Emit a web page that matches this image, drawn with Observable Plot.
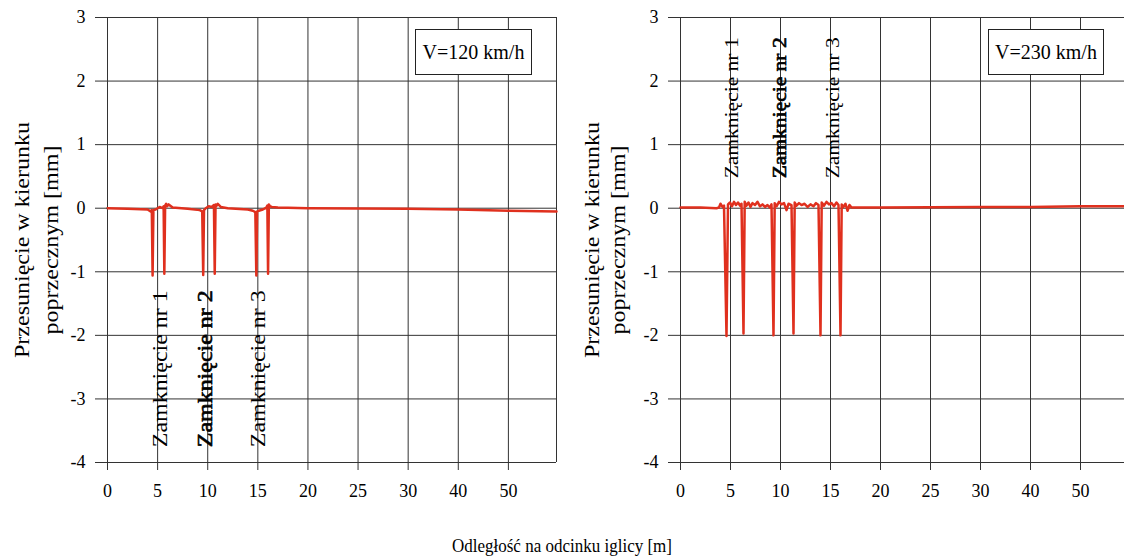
<!DOCTYPE html>
<html><head><meta charset="utf-8">
<script src="https://cdn.jsdelivr.net/npm/d3@7"></script>
<script src="https://cdn.jsdelivr.net/npm/@observablehq/plot@0.6"></script>
<style>
body{margin:0;background:#fff;}
#wrap{position:relative;width:1124px;height:558px;overflow:hidden;font-family:"Liberation Serif","Times New Roman",serif;background:#fff;}
.panel{position:absolute;top:0;}
.vbox{position:absolute;top:29px;height:46px;box-sizing:border-box;border:1px solid #222;background:#fff;font-size:20px;display:flex;align-items:center;justify-content:center;color:#000;}
#xtitle{position:absolute;left:0;width:1124px;text-align:center;top:536px;font-size:17px;line-height:20px;color:#000;transform:scaleY(1.15);}
</style></head><body><div id="wrap"></div>
<script>
// ---- data ----
const xTickValues = [0, 5, 10, 15, 20, 25, 30, 40, 50];
const xTickLabels = ["0", "5", "10", "15", "20", "25", "30", "40", "50"];
const yTickValues = [-4, -3, -2, -1, 0, 1, 2, 3];
const speedLabels = ["V=120 km/h", "V=230 km/h"];
const closureLabels = ["Zamknięcie nr 1", "Zamknięcie nr 2", "Zamknięcie nr 3"];
const yLabelLines = ["Przesunięcie w kierunku", "poprzecznym [mm]"];
const xTitle = "Odległość na odcinku iglicy [m]";

// V = 120 km/h
const x120 = [0, 2, 4, 4.3, 4.42, 4.5, 4.58, 4.8, 5.2, 5.5, 5.6, 5.67, 5.75, 5.85, 5.95, 6.1, 6.5, 8, 9.2, 9.45,
  9.55, 9.63, 9.8, 10.1, 10.4, 10.62, 10.7, 10.78, 10.9, 11.0, 11.3, 12, 14, 14.5, 14.75, 14.85, 14.93, 15.1, 15.5, 15.85,
  15.95, 16.02, 16.1, 16.2, 16.4, 17, 20, 30, 40, 50, 59.6];
const y120 = [0, -0.01, -0.02, -0.05, -0.03, -1.06, -0.03, -0.02, 0.02, 0.0, 0.03, -1.03, 0.04, 0.07, 0.03, 0.06, 0.01, -0.01, -0.03, -0.05,
  -1.05, -0.03, 0.0, 0.03, 0.02, 0.05, -1.03, 0.06, 0.04, 0.07, 0.02, 0.0, -0.02, -0.04, -0.06, -1.06, -0.05, -0.04, -0.02, 0.01,
  0.04, -1.03, 0.06, 0.03, 0.02, 0.01, 0.0, -0.01, -0.02, -0.04, -0.05];

// V = 230 km/h
const x230 = [0, 2, 3.6, 3.85, 4.0, 4.2, 4.35, 4.6, 4.75, 4.95, 5.15, 5.35, 5.55, 5.75, 5.95, 6.1, 6.3, 6.42, 6.6, 6.8,
  7.0, 7.2, 7.45, 7.7, 7.95, 8.2, 8.45, 8.7, 8.95, 9.1, 9.3, 9.42, 9.6, 9.85, 10.1, 10.35, 10.6, 10.8, 11.1, 11.3,
  11.42, 11.6, 11.85, 12.1, 12.4, 12.7, 13.0, 13.3, 13.55, 13.8, 14.0, 14.12, 14.35, 14.6, 14.85, 15.1, 15.35, 15.6, 15.8, 16.0,
  16.12, 16.3, 16.5, 16.7, 16.9, 17.1, 17.4, 20, 30, 40, 50, 58.8];
const y230 = [0.01, 0.01, 0.0, 0.01, 0.07, 0.02, 0.04, -2.01, 0.06, 0.09, 0.03, 0.1, 0.05, 0.09, 0.04, 0.07, -1.97, 0.1, 0.04, 0.09,
  0.02, 0.08, 0.05, 0.1, 0.03, 0.06, 0.02, 0.05, 0.01, 0.06, -2.0, 0.08, 0.03, 0.1, 0.06, 0.08, -0.03, 0.07, 0.05, -1.97,
  0.09, 0.04, 0.08, 0.05, 0.07, 0.02, 0.06, 0.03, 0.08, 0.05, -2.0, 0.09, 0.04, 0.1, 0.06, 0.08, 0.03, 0.09, 0.05, -2.0,
  0.06, 0.02, 0.07, -0.04, 0.05, 0.01, 0.01, 0.01, 0.02, 0.02, 0.03, 0.03];

// label anchor positions (data units)
const closureX120 = [5.3, 9.8, 15.05];
const closureY120 = -3.76;
const closureX230 = [5.2, 10.0, 15.3];
const closureY230 = 0.47;

// ---- piecewise axis: 0–30 m linear, then 10 m per 5-m step ----
const u = x => x <= 30 ? x : 30 + (x - 30) / 2;
const labelByU = new Map(xTickValues.map((v, i) => [u(v), xTickLabels[i]]));
const FONT = "Liberation Serif";

function panel(o) {
  const data = o.xs.map((x, i) => ({x, y: o.ys[i]}));
  const ann = o.annX.map((x, i) => ({x, y: o.annY, t: closureLabels[i], i}));
  const grid = {stroke: "#333", strokeOpacity: 1, strokeWidth: 1};
  const svg = Plot.plot({
    width: 562, height: 510,
    marginLeft: o.marginLeft, marginRight: o.marginRight, marginTop: 17, marginBottom: 48,
    style: {fontFamily: FONT, fontSize: "18px", color: "#000", background: "transparent", overflow: "visible"},
    x: {domain: [0, u(o.xMax)], axis: null},
    y: {domain: [-4, 3], axis: null},
    marks: [
      Plot.gridY({ticks: yTickValues, ...grid}),
      Plot.gridX({ticks: xTickValues.map(u), ...grid}),
      o.rightEdge ? Plot.ruleX([u(o.xMax)], grid) : null,
      Plot.line(data, {x: d => u(d.x), y: "y", stroke: "#e0301e", strokeWidth: 2.5, strokeLinejoin: "round"}),
      Plot.text(ann.filter(d => d.i !== 1), {x: d => u(d.x), y: "y", text: "t", rotate: -90, textAnchor: "start", fontSize: o.annFont, fontFamily: FONT, fill: "#000"}),
      Plot.text(ann.filter(d => d.i === 1), {x: d => u(d.x), y: "y", text: "t", rotate: -90, textAnchor: "start", fontSize: o.annFont, fontFamily: FONT, fill: "#000", stroke: "#000", strokeWidth: 0.6}),
      Plot.axisY({ticks: yTickValues, tickSize: 12, tickPadding: 10, tickFormat: d => String(d), fontSize: 18, fontFamily: FONT, label: null, stroke: "#333"}),
      Plot.axisX({ticks: xTickValues.map(u), tickSize: 8, tickPadding: 14, tickFormat: d => labelByU.get(d), fontSize: 18, fontFamily: FONT, label: null, stroke: "#333"}),
      Plot.text([yLabelLines[0]], {text: d => d, frameAnchor: "left", dx: o.lab1, rotate: -90, textAnchor: "middle", fontSize: 20, fontFamily: FONT, fill: "#000"}),
      Plot.text([yLabelLines[1]], {text: d => d, frameAnchor: "left", dx: o.lab2, rotate: -90, textAnchor: "middle", fontSize: 20, fontFamily: FONT, fill: "#000"})
    ]
  });
  // stretch the rotated texts to the lengths seen in the reference
  const lengths = new Map([
    ...closureLabels.map(t => [t, o.annLen]),
    [yLabelLines[0], 236],
    [yLabelLines[1], 189]
  ]);
  d3.select(svg).selectAll("text").each(function () {
    const L = lengths.get(this.textContent);
    if (L) d3.select(this).attr("textLength", L).attr("lengthAdjust", "spacingAndGlyphs");
  });
  svg.classList.add("panel");
  svg.style.left = o.left + "px";
  return svg;
}

const wrap = document.getElementById("wrap");
wrap.appendChild(panel({xs: x120, ys: y120, left: 0, marginLeft: 107, marginRight: 6, xMax: 59.6, rightEdge: true,
  annX: closureX120, annY: closureY120, annFont: 20, annLen: 157, lab1: -85, lab2: -56}));
wrap.appendChild(panel({xs: x230, ys: y230, left: 562, marginLeft: 118, marginRight: 0, xMax: 58.8, rightEdge: false,
  annX: closureX230, annY: closureY230, annFont: 18, annLen: 141, lab1: -88, lab2: -62}));

const boxLefts = [415, 988];
const boxWidths = [117, 116];
speedLabels.forEach((t, i) => {
  const b = document.createElement("div");
  b.className = "vbox";
  b.style.left = boxLefts[i] + "px";
  b.style.width = boxWidths[i] + "px";
  b.textContent = t;
  wrap.appendChild(b);
});
const xt = document.createElement("div");
xt.id = "xtitle";
xt.textContent = xTitle;
wrap.appendChild(xt);
</script></body></html>
